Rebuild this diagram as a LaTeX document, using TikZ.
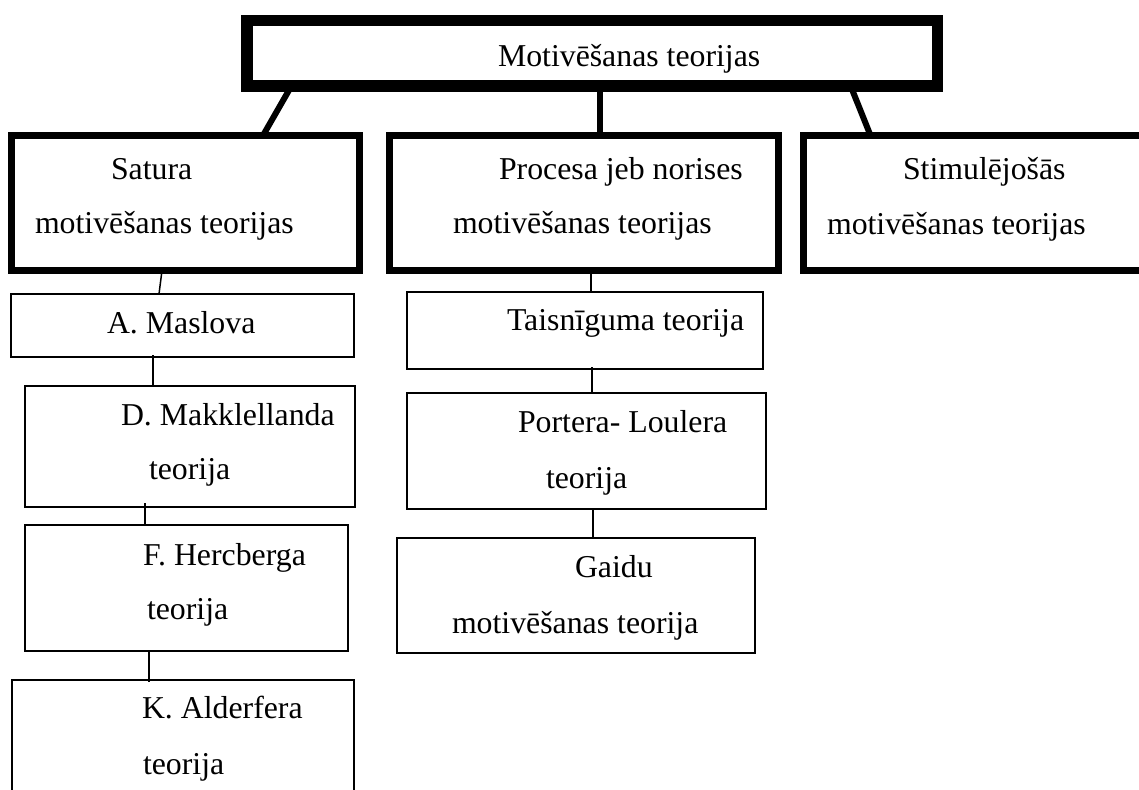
\documentclass[tikz,border=0pt]{standalone}
\usepackage{fontspec}
\setmainfont{Liberation Serif}
\begin{document}
\begin{tikzpicture}[x=1pt,y=-1pt,
  boxbase/.style={draw=black,rectangle,inner sep=0pt,outer sep=0pt},
  topbox/.style={boxbase,line width=11.5pt},
  midbox/.style={boxbase,line width=7pt},
  leafbox/.style={boxbase,line width=1.6pt},
  thickcon/.style={line width=6pt},
  thincon/.style={line width=1.5pt},
  lbl/.style={anchor=base west,inner sep=0pt,outer sep=0pt,font=\fontsize{31.8}{38}\selectfont}]
\useasboundingbox (0,0) rectangle (1139,789);
\clip (0,0) rectangle (1139,789);
\fill[white] (0,0) rectangle (1139,789);

% boxes (centre-line geometry)
\node[topbox, minimum width=690.5pt, minimum height=65.5pt] (top) at (592,53.5) {};
\node[midbox, minimum width=348pt, minimum height=135pt] (sat) at (185.5,203) {};
\node[midbox, minimum width=389pt, minimum height=135pt] (proc) at (584,203) {};
\node[midbox, minimum width=396.5pt, minimum height=135pt] (stim) at (1001.75,203) {};

\node[leafbox, minimum width=343pt, minimum height=63pt] (mas) at (182.5,325.5) {};
\node[leafbox, minimum width=330pt, minimum height=121pt] (mak) at (190,446.5) {};
\node[leafbox, minimum width=323pt, minimum height=126pt] (her) at (186.5,588) {};
\node[leafbox, minimum width=342pt, minimum height=160pt] (ald) at (183,760) {};

\node[leafbox, minimum width=356pt, minimum height=77pt] (tai) at (585,330.5) {};
\node[leafbox, minimum width=359pt, minimum height=116pt] (por) at (586.5,451) {};
\node[leafbox, minimum width=358pt, minimum height=115pt] (gai) at (576,595.5) {};

% texts
\node[lbl] (ttop) at (498,66.5) {Motivēšanas teorijas};
\node[lbl] (tsat1) at (111,179.5) {Satura};
\node[lbl] (tsat2) at (35,233) {motivēšanas teorijas};
\node[lbl] (tproc1) at (499,179.5) {Procesa jeb norises};
\node[lbl] (tproc2) at (453,233) {motivēšanas teorijas};
\node[lbl] (tstim1) at (903,179) {Stimulējošās};
\node[lbl] (tstim2) at (827,234) {motivēšanas teorijas};

\node[lbl] (tmas) at (107,333) {A. Maslova};
\node[lbl] (tmak1) at (121,425) {D. Makklellanda};
\node[lbl] (tmak2) at (149,479) {teorija};
\node[lbl] (ther1) at (143,565) {F. Hercberga};
\node[lbl] (ther2) at (147,619) {teorija};
\node[lbl] (tald1) at (142,718) {K. Alderfera};
\node[lbl] (tald2) at (143,774) {teorija};

\node[lbl] (ttai) at (507,330) {Taisnīguma teorija};
\node[lbl] (tpor1) at (518,432) {Portera- Loulera};
\node[lbl] (tpor2) at (546,488) {teorija};
\node[lbl] (tgai1) at (575,577) {Gaidu};
\node[lbl] (tgai2) at (452,633) {motivēšanas teorija};

% thick connectors
\draw[thickcon] ([xshift=44.5pt]top.south west) -- ([xshift=251.5pt]sat.north west);
\draw[thickcon] ([xshift=352.75pt]top.south west) -- ([xshift=210pt]proc.north west);
\draw[thickcon] ([xshift=604pt]top.south west) -- ([xshift=67pt]stim.north west);

% thin connectors
\draw[thincon] ([xshift=150.5pt]sat.south west) -- ([xshift=148pt]mas.north west);
\draw[thincon] ([xshift=142pt,yshift=2pt]mas.south west) -- ([xshift=128pt]mak.north west);
\draw[thincon] ([xshift=120pt,yshift=4pt]mak.south west) -- ([xshift=120pt]her.north west);
\draw[thincon] ([xshift=124pt]her.south west) -- ([xshift=137pt,yshift=-2pt]ald.north west);

\draw[thincon] ([xshift=201.5pt]proc.south west) -- ([xshift=184pt]tai.north west);
\draw[thincon] ([xshift=185pt,yshift=2pt]tai.south west) -- ([xshift=185pt]por.north west);
\draw[thincon] ([xshift=186pt]por.south west) -- ([xshift=196pt]gai.north west);
\end{tikzpicture}
\end{document}
